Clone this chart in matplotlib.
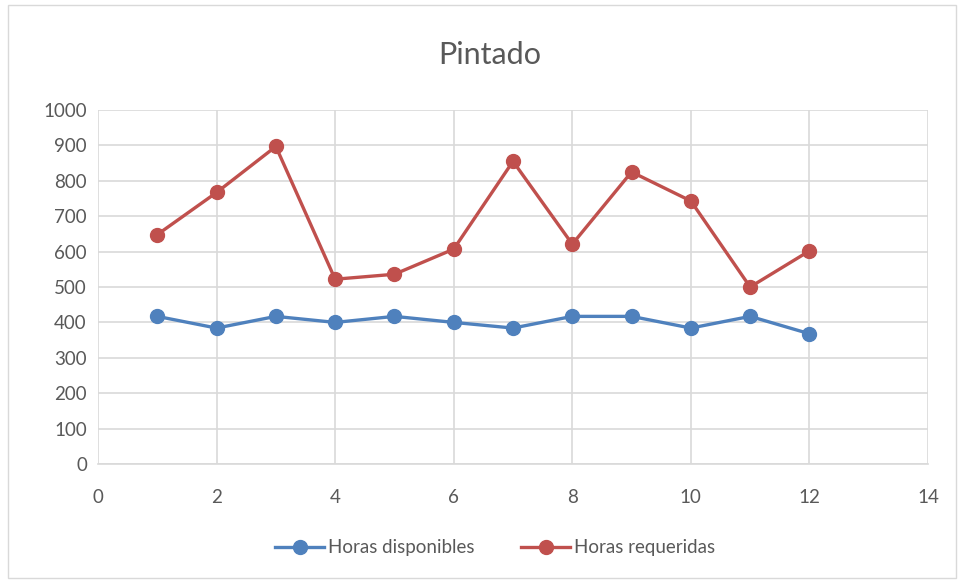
import matplotlib
matplotlib.use("Agg")
import matplotlib.pyplot as plt
from matplotlib.patches import Rectangle

plt.rcParams['font.family'] = ['Lato', 'DejaVu Sans']

x_vals = [1, 2, 3, 4, 5, 6, 7, 8, 9, 10, 11, 12]
horas_disponibles = [417, 384, 417, 400, 417, 400, 384, 417, 417, 384, 417, 368]
horas_requeridas = [648, 767, 897, 522, 536, 607, 855, 621, 825, 743, 500, 602]
series_labels = ["Horas disponibles", "Horas requeridas"]
title = "Pintado"

fig = plt.figure(figsize=(9.58, 5.81), dpi=100)
ax = fig.add_axes([98/958, 1 - 464/581, (928-98)/958, (464-110)/581])

grid_c = "#d9d9d9"
ax.plot(x_vals, horas_disponibles, color="#4F81BD", lw=2.4, marker="o", ms=10,
        label=series_labels[0], zorder=3)
ax.plot(x_vals, horas_requeridas, color="#C0504D", lw=2.4, marker="o", ms=10,
        label=series_labels[1], zorder=3)

ax.set_xlim(0, 14)
ax.set_ylim(0, 1000)
ax.set_xticks(range(0, 15, 2))
ax.set_yticks(range(0, 1001, 100))
ax.grid(True, color=grid_c, lw=1.2)
ax.set_axisbelow(True)
for s in ["top", "right", "left"]:
    ax.spines[s].set_visible(False)
ax.spines["bottom"].set_color(grid_c)
ax.spines["bottom"].set_linewidth(1.2)
ax.tick_params(length=0, labelsize=13.5, colors="#595959", pad=8)
ax.tick_params(axis='x', pad=18)

fig.text(490/958, 1 - 55/581, title, ha="center", va="center", fontsize=22, color="#595959")

leg = fig.legend(loc="center", bbox_to_anchor=(495/958, 1 - 548/581), ncol=2, frameon=False,
                 fontsize=13.5, handlelength=2.6, columnspacing=2.5, handletextpad=0.2,
                 labelcolor="#595959")

fig.patches.append(Rectangle((8/958, 3/581), 948/958, 573/581, transform=fig.transFigure,
                             fill=False, edgecolor="#d9d9d9", lw=1))

fig.savefig("out.png", dpi=100)
